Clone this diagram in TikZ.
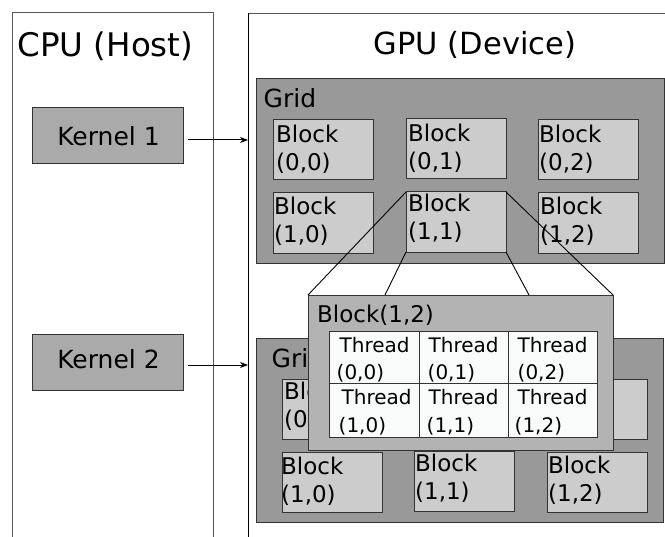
\documentclass[tikz,border=0pt]{standalone}
\usepackage{fontspec}
\setmainfont{DejaVu Sans}
\usetikzlibrary{calc,arrows.meta}
\definecolor{kernelfill}{HTML}{AAAAAA}
\definecolor{gridfill}{HTML}{999999}
\definecolor{blockfill}{HTML}{CCCCCC}
\definecolor{popfill}{HTML}{B3B3B3}
\definecolor{threadfill}{HTML}{F9FBFA}
\definecolor{edgecol}{HTML}{333333}
\definecolor{framecol}{HTML}{555555}
\tikzset{
  frame/.style={draw=framecol, line width=1bp, fill=none, anchor=north west, inner sep=0, outer sep=0},
  kernelbox/.style={draw=edgecol, line width=1bp, fill=kernelfill, minimum width=151bp, minimum height=56bp, anchor=north west, inner sep=0, outer sep=0},
  gridbox/.style={draw=edgecol, line width=1bp, fill=gridfill, anchor=north west, inner sep=0, outer sep=0},
  blockbox/.style={draw=edgecol, line width=1bp, fill=blockfill, minimum width=100bp, minimum height=60bp, anchor=north west, inner sep=0, outer sep=0},
  popbox/.style={draw=edgecol, line width=1bp, fill=popfill, anchor=north west, inner sep=0, outer sep=0},
  threadcell/.style={draw=edgecol, line width=1bp, fill=threadfill, anchor=north west, inner sep=0, outer sep=0},
  blocktxt/.style={anchor=base west, inner sep=0, font=\fontsize{23bp}{28bp}\selectfont},
  threadtxt/.style={anchor=base west, inner sep=0, font=\fontsize{20bp}{24bp}\selectfont},
  kerneltxt/.style={font=\fontsize{25bp}{30bp}\selectfont},
  gridtxt/.style={anchor=base west, inner sep=0, font=\fontsize{25bp}{30bp}\selectfont},
  conn/.style={draw=black, line width=0.9bp},
  launch/.style={draw=black, line width=1bp, -{Stealth[length=8bp,width=6bp,inset=2.5bp]}},
}
\newcommand{\myblk}[6]{%
  \node[blockbox] (#1) at (#2,#3) {};
  \node[blocktxt] (#1-a) at ($(#1.north west)+(#4,#5)$) {Block};
  \node[blocktxt] (#1-b) at ($(#1.north west)+(#4,#5+28)$) {#6};
}
\begin{document}
\begin{tikzpicture}[x=1bp,y=-1bp]
\useasboundingbox (0,0) rectangle (665,537);
\clip (0,0) rectangle (665,537);
\fill[white] (0,0) rectangle (665,537);

% CPU and GPU frames
\node[frame, minimum width=201bp, minimum height=560bp] (cpu) at (12.5,12.5) {};
\node[frame, minimum width=460bp, minimum height=560bp] (gpu) at (248,13.5) {};
\draw[black, line width=1bp] (gpu.north west) -- (gpu.south west);
\node[anchor=base, inner sep=0, font=\fontsize{32.5bp}{36bp}\selectfont] (cputitle) at (105.5,57) {CPU (Host)};
\node[anchor=base, inner sep=0, font=\fontsize{30.5bp}{36bp}\selectfont] (gputitle) at (475,55) {GPU (Device)};

% Kernels
\node[kernelbox] (k1) at (32,108) {};
\node[kerneltxt] (k1t) at ($(k1.center)+(1,0)$) {Kernel 1};
\node[kernelbox] (k2) at (32,334) {};
\node[kerneltxt] (k2t) at ($(k2.center)+(1,-3)$) {Kernel 2};

% Grid 2 (drawn first, under the popup)
\node[gridbox, minimum width=407bp, minimum height=184bp] (g2) at (256,338) {};
\node[gridtxt] (g2t) at (271.5,367) {Grid};
\myblk{g2b00}{282}{379}{2}{20}{(0,0)}
\node[blockbox] (g2b02) at (547,379) {};
\myblk{g2b10}{282}{452}{-1}{22}{(1,0)}
\myblk{g2b11}{414}{451}{1}{20}{(1,1)}
\myblk{g2b12}{547}{452}{1}{21}{(1,2)}

% Grid 1
\node[gridbox, minimum width=408bp, minimum height=184bp] (g1) at (256,79) {};
\node[gridtxt] (g1t) at (263.5,108) {Grid};
\myblk{g1b00}{273}{120}{3}{23}{(0,0)}
\myblk{g1b01}{406}{119}{2}{23}{(0,1)}
\myblk{g1b02}{538}{120}{1}{23}{(0,2)}
\myblk{g1b10}{273}{193}{1}{22}{(1,0)}
\myblk{g1b11}{406}{192}{2}{20}{(1,1)}
\myblk{g1b12}{538}{193}{2}{22}{(1,2)}

% Launch arrows
\coordinate (a1s) at ($(k1.east)+(5,4)$);
\coordinate (a2s) at ($(k2.east)+(5,3)$);
\draw[launch] (a1s) -- (a1s -| gpu.west);
\draw[launch] (a2s) -- (a2s -| gpu.west);

% Popup block
\node[popbox, minimum width=305bp, minimum height=155bp] (pop) at (308,295) {};
\node[blocktxt] (popt) at (317,322) {Block(1,2)};
\coordinate (popA) at ($(pop.north west)+(77,0)$);
\coordinate (popB) at ($(pop.north west)+(221,0)$);
\draw[conn] (g1b11.north west) -- (pop.north west);
\draw[conn] (g1b11.south west) -- (popA);
\draw[conn] (g1b11.south east) -- (popB);
\draw[conn] (g1b11.north east) -- (pop.north east);

% Thread cells
\node[threadcell, minimum width=90bp, minimum height=52bp] (t00) at (329,331) {};
\node[threadcell, minimum width=89bp, minimum height=52bp] (t01) at (419,331) {};
\node[threadcell, minimum width=89bp, minimum height=52bp] (t02) at (508,331) {};
\node[threadcell, minimum width=90bp, minimum height=54bp] (t10) at (329,383) {};
\node[threadcell, minimum width=89bp, minimum height=54bp] (t11) at (419,383) {};
\node[threadcell, minimum width=89bp, minimum height=54bp] (t12) at (508,383) {};

\node[threadtxt] (t00a) at (339.5,352) {Thread};
\node[threadtxt] (t00b) at (336.5,379) {(0,0)};
\node[threadtxt] (t01a) at (428.5,352) {Thread};
\node[threadtxt] (t01b) at (427.5,379) {(0,1)};
\node[threadtxt] (t02a) at (517.5,352) {Thread};
\node[threadtxt] (t02b) at (517.5,379) {(0,2)};
\node[threadtxt] (t10a) at (341.5,404) {Thread};
\node[threadtxt] (t10b) at (338.5,432) {(1,0)};
\node[threadtxt] (t11a) at (428.5,404) {Thread};
\node[threadtxt] (t11b) at (426.5,432) {(1,1)};
\node[threadtxt] (t12a) at (517.5,404) {Thread};
\node[threadtxt] (t12b) at (514.5,432) {(1,2)};
\end{tikzpicture}
\end{document}
